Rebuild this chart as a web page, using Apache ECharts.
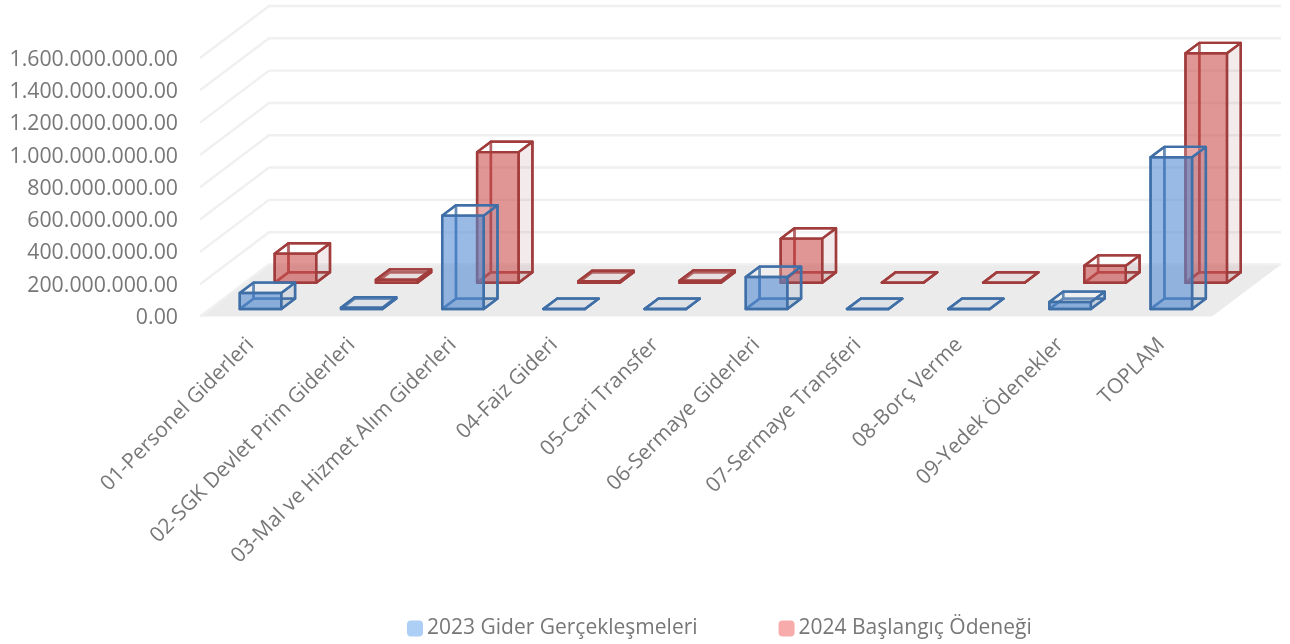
<!DOCTYPE html>
<html><head><meta charset="utf-8">
<style>html,body{margin:0;padding:0;background:#fff}#c{width:1290px;height:644px}</style>
<script src="https://cdn.jsdelivr.net/npm/echarts@6/dist/echarts.min.js"></script>
</head><body><div id="c"></div>
<script>
const categories = ['01-Personel Giderleri','02-SGK Devlet Prim Giderleri','03-Mal ve Hizmet Alım Giderleri','04-Faiz Gideri','05-Cari Transfer','06-Sermaye Giderleri','07-Sermaye Transferi','08-Borç Verme','09-Yedek Ödenekler','TOPLAM'];
const gider2023 = [99000000,8000000,578000000,0,0,198000000,0,0,43000000,939000000];
const odenek2024 = [180000000,18000000,808000000,10000000,12000000,273000000,0,0,105000000,1420000000];
const yTickValues = [0,200000000,400000000,600000000,800000000,1000000000,1200000000,1400000000,1600000000];
const yTickLabels = ['0.00','200.000.000.00','400.000.000.00','600.000.000.00','800.000.000.00','1.000.000.000.00','1.200.000.000.00','1.400.000.000.00','1.600.000.000.00'];

const FONT = '"Open Sans"';
const TXT = '#777777';
const WALL = [69, -52];
const BOX_T = 0.2;
const BAR_W = 0.41;

const chart = echarts.init(document.getElementById('c'), null, {renderer:'canvas'});

function floorItem(params, api) {
  const c = params.coordSys;
  const y = api.coord([0, 0])[1], x0 = c.x, x1 = c.x + c.width;
  return {type:'polygon', silent:true, shape:{points:[[x0,y],[x1,y],[x1+WALL[0],y+WALL[1]],[x0+WALL[0],y+WALL[1]]]}, style:{fill:'#ebebeb'}};
}
function gridItem(params, api) {
  const c = params.coordSys;
  const y = api.coord([0, api.value(0)])[1];
  return {type:'polyline', silent:true, shape:{points:[[c.x,y],[c.x+WALL[0],y+WALL[1]],[c.x+c.width+WALL[0],y+WALL[1]]]}, style:{fill:null, stroke:'#f0f0f0', lineWidth:2.4}};
}
function boxRenderer(t, front, side, stroke) {
  return function (params, api) {
    const i = api.value(0), v = api.value(1);
    const band = api.size([1, 0])[0];
    const w = band * BAR_W;
    const p0 = api.coord([i, 0]), pv = api.coord([i, v]);
    const ox = WALL[0] * t, oy = WALL[1] * t;
    const dx = WALL[0] * BOX_T, dy = WALL[1] * BOX_T;
    const xl = p0[0] + ox - w/2;
    const xr = xl + w;
    const yb = p0[1] + oy, yt = pv[1] + oy;
    const q = (pts, fill) => ({type:'polygon', silent:true, shape:{points:pts}, style:{fill:fill, stroke:stroke, lineWidth:2.4, lineJoin:'round'}});
    const fb=[xl,yb], fbr=[xr,yb], ft=[xl,yt], ftr=[xr,yt];
    const bb=[xl+dx,yb+dy], bbr=[xr+dx,yb+dy], bt=[xl+dx,yt+dy], btr=[xr+dx,yt+dy];
    return {type:'group', children:[
      q([bb,bbr,btr,bt], 'rgba(0,0,0,0)'),
      q([fb,fbr,bbr,bb], side),
      q([fb,bb,bt,ft], 'rgba(0,0,0,0)'),
      q([fbr,bbr,btr,ftr], side),
      q([ft,ftr,btr,bt], 'rgba(255,255,255,0.2)'),
      q([fb,fbr,ftr,ft], front)
    ]};
  };
}
const blueLegend = '#aecff5', redLegend = '#f7abab';
chart.setOption({
  animation:false,
  backgroundColor:'#fff',
  textStyle:{fontFamily:FONT},
  grid:{left:200, right:78, top:58, bottom:327.5, containLabel:false},
  xAxis:{type:'category', data:categories, axisLine:{show:false}, axisTick:{show:false}, splitLine:{show:false},
    axisLabel:{rotate:45, interval:0, margin:25, color:TXT, fontFamily:FONT, fontSize:21}},
  yAxis:{type:'value', min:0, max:1600000000, interval:200000000, axisLine:{show:false}, axisTick:{show:false}, splitLine:{show:false},
    axisLabel:{margin:22, color:TXT, fontFamily:FONT, fontSize:21.3, verticalAlign:'top', lineHeight:3, formatter:v => yTickLabels[yTickValues.indexOf(v)]}},
  legend:{data:['2023 Gider Gerçekleşmeleri','2024 Başlangıç Ödeneği'], left:402, top:613, itemWidth:16, itemHeight:16, itemGap:81,
    textStyle:{color:TXT, fontFamily:FONT, fontSize:21, padding:[0,0,0,-1]}, selectedMode:false},
  series:[
    {type:'custom', name:'_floor', renderItem:floorItem, data:[[0]], encode:{x:0}, silent:true, z:1},
    {type:'custom', name:'_grid', renderItem:gridItem, data:yTickValues.map(v=>[v]), encode:{y:0}, silent:true, z:1},
    {type:'custom', name:'2024 Başlangıç Ödeneği', itemStyle:{color:redLegend}, z:2, silent:true,
      renderItem:boxRenderer(0.65, 'rgba(205,80,80,0.6)', 'rgba(170,110,115,0.14)', '#a13c3c'),
      data:odenek2024.map((v,i)=>[i,v]), encode:{x:0,y:1}},
    {type:'custom', name:'2023 Gider Gerçekleşmeleri', itemStyle:{color:blueLegend}, z:3, silent:true,
      renderItem:boxRenderer(0.144, 'rgba(85,140,210,0.6)', 'rgba(95,125,170,0.14)', '#3f6fa6'),
      data:gider2023.map((v,i)=>[i,v]), encode:{x:0,y:1}}
  ]
});
</script></body></html>
